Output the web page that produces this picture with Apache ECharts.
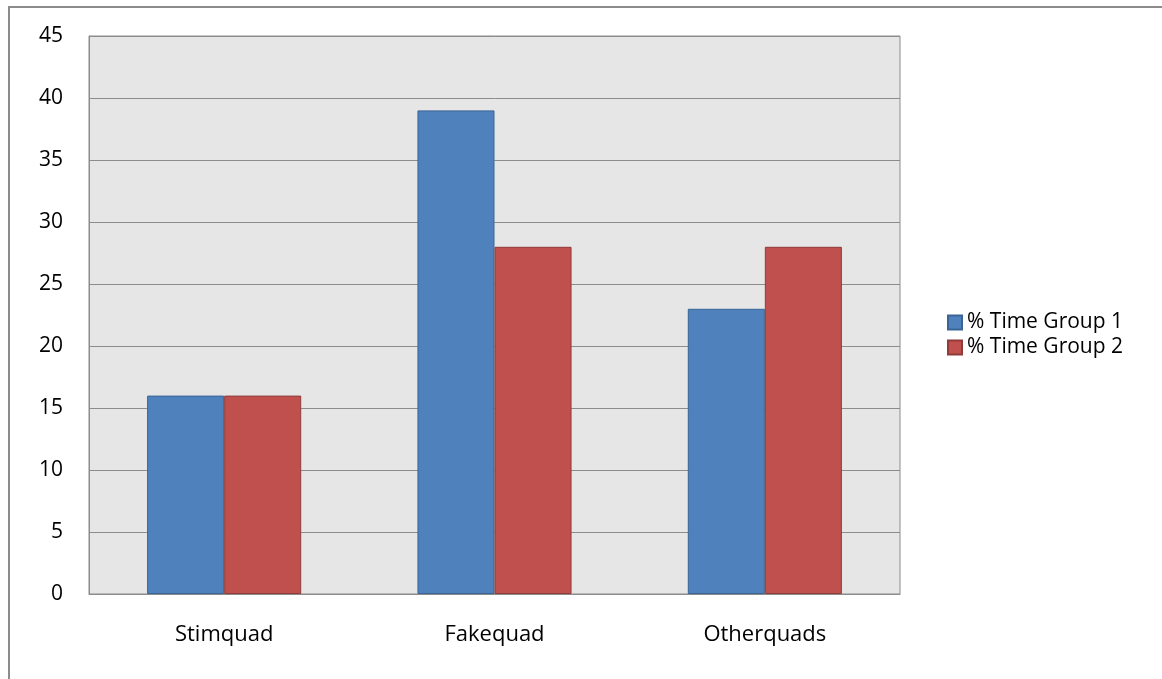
<!DOCTYPE html>
<html>
<head>
<meta charset="utf-8">
<script src="https://cdn.jsdelivr.net/npm/echarts@6/dist/echarts.min.js"></script>
<style>
  html, body { margin: 0; padding: 0; background: #fff; }
  #frame { position: absolute; left: 8px; top: 6px; width: 1160px; height: 680px;
           border-left: 2px solid #8c8c8c; border-top: 2px solid #8c8c8c; box-sizing: border-box; }
  #chart { position: absolute; left: 0; top: 0; width: 1162px; height: 679px; }
</style>
</head>
<body>
<div id="frame"></div>
<div id="chart"></div>
<script>
// 三个区域的停留时间百分比, 两组对比
const categories = ['Stimquad', 'Fakequad', 'Otherquads']
const group1 = [16, 39, 23]
const group2 = [16, 28, 28]
const seriesNames = ['% Time Group 1', '% Time Group 2']

const font = '"Open Sans", "DejaVu Sans", sans-serif'
const chart = echarts.init(document.getElementById('chart'))

chart.setOption({
  animation: false,
  textStyle: { fontFamily: font },
  legend: {
    orient: 'vertical',
    left: 942, top: 307,
    itemWidth: 14, itemHeight: 14, itemGap: 4,
    icon: 'rect',
    textStyle: { fontSize: 21, color: '#000', fontFamily: font },
    data: seriesNames
  },
  grid: {
    left: 89, right: 262, top: 36, bottom: 85,
    show: true, backgroundColor: '#e6e6e6', borderColor: '#8c8c8c', borderWidth: 1
  },
  xAxis: {
    type: 'category',
    data: categories,
    axisLine: { show: true, lineStyle: { color: '#8c8c8c' } },
    axisTick: { show: false },
    axisLabel: { fontSize: 22, color: '#000', margin: 30 }
  },
  yAxis: {
    type: 'value', min: 0, max: 45, interval: 5,
    axisLine: { show: true, lineStyle: { color: '#8c8c8c' } },
    axisTick: { show: false },
    splitLine: { lineStyle: { color: '#8c8c8c', width: 1 } },
    axisLabel: { fontSize: 21, color: '#000', margin: 26 }
  },
  series: [
    {
      name: seriesNames[0], type: 'bar', data: group1,
      barGap: '0%', barCategoryGap: '43%',
      itemStyle: { color: '#4f81bd', borderColor: '#3a6496', borderWidth: 1 }
    },
    {
      name: seriesNames[1], type: 'bar', data: group2,
      itemStyle: { color: '#c0504d', borderColor: '#8f3b39', borderWidth: 1 }
    }
  ]
})
</script>
</body>
</html>
